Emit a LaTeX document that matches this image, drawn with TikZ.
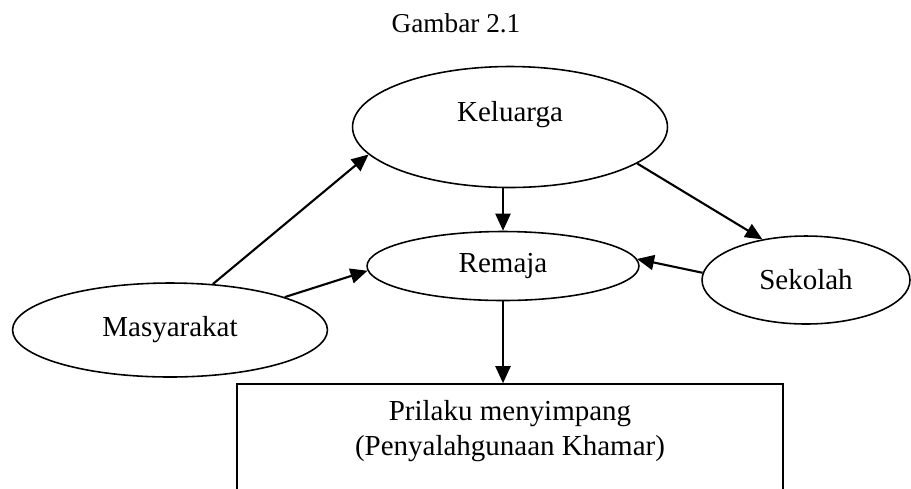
\documentclass[tikz,border=0pt]{standalone}
\usepackage{fontspec}
\setmainfont{Liberation Serif}
\usetikzlibrary{shapes.geometric,arrows.meta}

\tikzset{
  bubble/.style={ellipse, draw, line width=0.9pt, inner sep=0pt},
  arr/.style={line width=1.2pt, -{Triangle[length=0.34cm,width=0.3cm]}}
}

\begin{document}
\begin{tikzpicture}[x=0.02cm, y=-0.02cm, font=\fontsize{16.5}{20}\selectfont]
      \clip (0,0) rectangle (911,488);
      \node[name=title, font=\fontsize{15.5}{18}\selectfont] at (456,23) {Gambar 2.1};
      \node[name=kel, bubble, minimum width=6.3cm, minimum height=2.42cm,
        label={[yshift=0.24cm]center:Keluarga}] at (510,127) {};
      \node[name=rem, bubble, minimum width=5.44cm, minimum height=1.38cm] at (503,266) {Remaja};
      \node[name=sek, bubble, minimum width=4.16cm, minimum height=1.76cm] at (806,280) {Sekolah};
      \node[name=mas, bubble, minimum width=6.3cm, minimum height=1.88cm] at (170,330) {Masyarakat};
      \node[name=box, draw, line width=0.9pt, minimum width=10.92cm, minimum height=2.32cm,
        label={[yshift=0.22cm, align=center]center:Prilaku menyimpang\\(Penyalahgunaan Khamar)}] at (510,442) {};
      \draw[arr] (kel.south -| rem.north) -- (rem.north);
      \draw[arr] (rem.south) -- (rem.south |- box.north);
      \draw[arr] (kel.-16) -- (sek.137);
      \draw[arr] (sek.176) -- (rem.3);
      \draw[arr] (mas.47) -- (kel.191);
      \draw[arr] (mas.16) -- (rem.182);
    \end{tikzpicture}
\end{document}
